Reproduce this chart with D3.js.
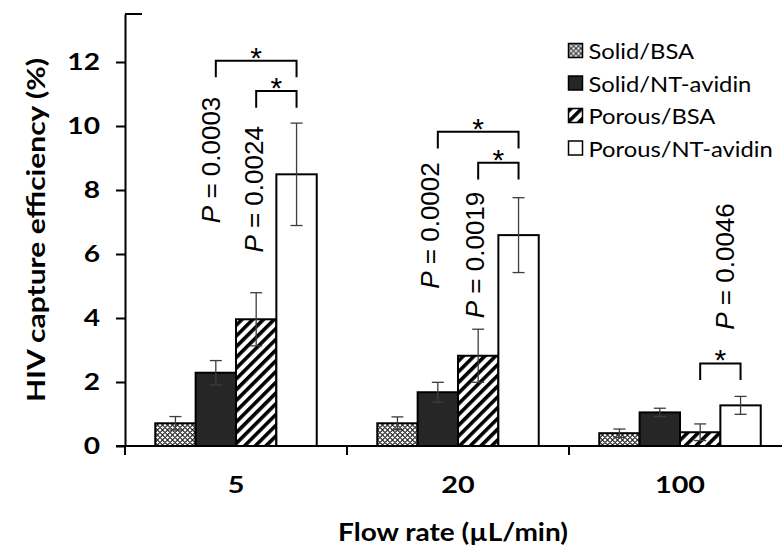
<!DOCTYPE html>
<html>
<head>
<meta charset="utf-8">
<script src="https://cdn.jsdelivr.net/npm/d3@7"></script>
<style>
  html, body { margin: 0; padding: 0; background: #fff; }
  svg { display: block; }
</style>
</head>
<body>
<svg id="chart" width="782" height="548"></svg>
<script>
// Flow-rate categories and series names
const categories = ["5", "20", "100"];
const seriesNames = ["Solid/BSA", "Solid/NT-avidin", "Porous/BSA", "Porous/NT-avidin"];

// Mean capture efficiency (%) per series, one value per flow rate
const solidBSA = [0.71, 0.71, 0.40];
const solidNT = [2.29, 1.68, 1.05];
const porousBSA = [3.96, 2.82, 0.43];
const porousNT = [8.49, 6.59, 1.27];

// Error-bar half lengths (%)
const solidBSAErr = [0.21, 0.20, 0.13];
const solidNTErr = [0.38, 0.31, 0.13];
const porousBSAErr = [0.83, 0.83, 0.26];
const porousNTErr = [1.60, 1.17, 0.28];

const yTicks = [0, 2, 4, 6, 8, 10, 12];

// Significance comparisons: group, the two series compared, bracket height, p-value
const compGroup = ["5", "5", "20", "20", "100"];
const compFrom = [1, 2, 1, 2, 2];
const compTo = [3, 3, 3, 3, 3];
const compLevel = [12.04, 11.09, 9.82, 8.85, 2.58];
const compP = ["0.0003", "0.0024", "0.0002", "0.0019", "0.0046"];
const compLabelY = [8.94, 8.02, 6.89, 5.97, 5.61];

const values = [solidBSA, solidNT, porousBSA, porousNT];
const errors = [solidBSAErr, solidNTErr, porousBSAErr, porousNTErr];

const rows = [];
categories.forEach((c, ci) => {
  seriesNames.forEach((s, si) => {
    rows.push({ cat: c, series: s, si, value: values[si][ci], err: errors[si][ci] });
  });
});

const svg = d3.select("#chart");
const bodyFont = "Lato, 'Open Sans', sans-serif";
const annoFont = "'Liberation Sans', Arial, sans-serif";

// Widen a text element horizontally around its anchor point
function widen(sel, sx) {
  sel.each(function () {
    const t = d3.select(this);
    const x = +t.attr("x") || 0, yy = +t.attr("y") || 0;
    t.attr("x", 0).attr("y", 0)
      .attr("transform", `translate(${x},${yy}) scale(${sx},1)`);
  });
}

// Fill patterns
const defs = svg.append("defs");
const dots = defs.append("pattern")
  .attr("id", "diamond").attr("patternUnits", "userSpaceOnUse")
  .attr("width", 5).attr("height", 5);
dots.append("rect").attr("width", 5).attr("height", 5).attr("fill", "#fff");
dots.append("path").attr("d", "M0,2.5 L2.5,0 L5,2.5 L2.5,5 Z")
  .attr("fill", "none").attr("stroke", "#2a2a2a").attr("stroke-width", 1.1);

const stripes = defs.append("pattern")
  .attr("id", "stripes").attr("patternUnits", "userSpaceOnUse")
  .attr("width", 7.6).attr("height", 7.6)
  .attr("patternTransform", "rotate(45)");
stripes.append("rect").attr("width", 7.6).attr("height", 7.6).attr("fill", "#fff");
stripes.append("rect").attr("width", 3.6).attr("height", 7.6).attr("fill", "#000");

const fills = ["url(#diamond)", "#262626", "url(#stripes)", "#fff"];

// Scales
const x0 = d3.scaleBand().domain(categories).range([125, 791]).paddingInner(0).paddingOuter(0);
const x1 = d3.scaleBand().domain(d3.range(seriesNames.length))
  .range([0, x0.bandwidth()]).paddingInner(0).paddingOuter(0.75);
const y = d3.scaleLinear().domain([0, 13.5]).range([446, 14]);

const barX = (cat, si) => x0(cat) + x1(si);
const barC = (cat, si) => barX(cat, si) + x1.bandwidth() / 2;

// Bars
svg.append("g").selectAll("rect").data(rows).join("rect")
  .attr("x", d => barX(d.cat, d.si))
  .attr("y", d => y(d.value))
  .attr("width", x1.bandwidth())
  .attr("height", d => y(0) - y(d.value))
  .attr("fill", d => fills[d.si])
  .attr("stroke", "#000").attr("stroke-width", 2);

// Error bars
const eb = svg.append("g").attr("stroke", "#3c3c3c").attr("stroke-width", 1.3);
rows.forEach(d => {
  const cx = barC(d.cat, d.si);
  const hi = y(d.value + d.err), lo = y(Math.max(0, d.value - d.err));
  eb.append("line").attr("x1", cx).attr("x2", cx).attr("y1", hi).attr("y2", lo);
  eb.append("line").attr("x1", cx - 6).attr("x2", cx + 6).attr("y1", hi).attr("y2", hi);
  eb.append("line").attr("x1", cx - 6).attr("x2", cx + 6).attr("y1", lo).attr("y2", lo);
});

// Y axis
const yAxis = svg.append("g").attr("transform", "translate(125,0)")
  .call(d3.axisLeft(y).tickValues(yTicks).tickSize(9).tickSizeOuter(0).tickPadding(16));
yAxis.select(".domain").attr("stroke", "#000").attr("stroke-width", 2);
yAxis.selectAll(".tick line").attr("stroke", "#000").attr("stroke-width", 2);
yAxis.selectAll(".tick text")
  .attr("font-family", bodyFont).attr("font-weight", "bold")
  .attr("font-size", 22).attr("fill", "#000")
  .call(widen, 1.28);
svg.append("line").attr("x1", 125).attr("x2", 142).attr("y1", y(13.5)).attr("y2", y(13.5))
  .attr("stroke", "#000").attr("stroke-width", 2);

// X axis: category labels plus boundary ticks
const xAxis = svg.append("g").attr("transform", `translate(0,${y(0)})`)
  .call(d3.axisBottom(x0).tickSize(0).tickPadding(31));
xAxis.select(".domain").remove();
xAxis.selectAll(".tick text")
  .attr("font-family", bodyFont).attr("font-weight", "bold")
  .attr("font-size", 23).attr("fill", "#000")
  .call(widen, 1.25);
svg.append("line").attr("x1", 116).attr("x2", 782).attr("y1", y(0)).attr("y2", y(0))
  .attr("stroke", "#000").attr("stroke-width", 2);
const bounds = categories.map(c => x0(c)).concat([x0.range()[1]]);
svg.append("g").selectAll("line").data(bounds).join("line")
  .attr("x1", d => d).attr("x2", d => d)
  .attr("y1", y(0)).attr("y2", y(0) + 9)
  .attr("stroke", "#000").attr("stroke-width", 2);

// Axis titles
svg.append("text")
  .attr("transform", `translate(45,${(y(0) + 14) / 2}) rotate(-90) scale(1.2,1)`)
  .attr("text-anchor", "middle")
  .attr("font-family", bodyFont).attr("font-weight", "bold").attr("font-size", 25)
  .text("HIV capture efficiency (%)");
svg.append("text")
  .attr("x", 453).attr("y", 541)
  .attr("text-anchor", "middle")
  .attr("font-family", bodyFont).attr("font-weight", "bold").attr("font-size", 25)
  .text("Flow rate (µL/min)")
  .call(widen, 1.12);

// Significance brackets, stars and p-values
const legDrop = 0.52;
const labelShift = [3.7, 7, 1, 6, 33.7];
const ann = svg.append("g");
compGroup.forEach((g, i) => {
  const xa = barC(g, compFrom[i]), xb = barC(g, compTo[i]);
  const top = y(compLevel[i]), foot = y(compLevel[i] - legDrop);
  ann.append("path")
    .attr("d", `M${xa},${foot} V${top} H${xb} V${foot}`)
    .attr("fill", "none").attr("stroke", "#000").attr("stroke-width", 2);
  ann.append("text")
    .attr("x", (xa + xb) / 2).attr("y", top + 7)
    .attr("text-anchor", "middle")
    .attr("font-family", annoFont).attr("font-size", 30)
    .text("*");
  const t = ann.append("text")
    .attr("transform", `translate(${xa + labelShift[i]},${y(compLabelY[i])}) rotate(-90)`)
    .attr("text-anchor", "middle")
    .attr("font-family", annoFont).attr("font-size", 26);
  t.append("tspan").attr("font-style", "italic").text("P");
  t.append("tspan").text(" = " + compP[i]);
});

// Legend
const legend = svg.append("g").attr("transform", "translate(568.5,43.5)");
seriesNames.forEach((s, i) => {
  const row = legend.append("g").attr("transform", `translate(0,${i * 32.5})`);
  row.append("rect").attr("width", 14).attr("height", 14)
    .attr("fill", fills[i]).attr("stroke", "#000").attr("stroke-width", 1.5);
  row.append("text").attr("x", 20).attr("y", 15.5)
    .attr("font-family", bodyFont).attr("font-size", 22).attr("fill", "#000")
    .text(s)
    .call(widen, 1.08);
});
</script>
</body>
</html>
